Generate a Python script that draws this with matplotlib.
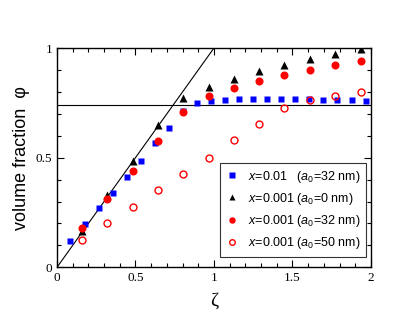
import matplotlib
matplotlib.use('Agg')
import matplotlib.pyplot as plt
from matplotlib.ticker import MultipleLocator

# x=0.01, a0=32 nm
zeta_blue = [0.085, 0.176, 0.265, 0.355, 0.444, 0.533, 0.622, 0.713, 0.802, 0.892,
             0.981, 1.070, 1.159, 1.248, 1.338, 1.427, 1.518, 1.607, 1.696, 1.785,
             1.877, 1.966]
phi_blue = [0.120, 0.196, 0.269, 0.340, 0.413, 0.485, 0.565, 0.636, 0.715, 0.748,
            0.757, 0.762, 0.766, 0.768, 0.769, 0.769, 0.768, 0.767, 0.765, 0.764,
            0.762, 0.759]

# x=0.001 series share the same zeta values
zeta_001 = [0.159, 0.320, 0.482, 0.643, 0.803, 0.966, 1.125, 1.287, 1.448, 1.611,
            1.773, 1.934]
phi_a0 = [0.165, 0.329, 0.485, 0.648, 0.772, 0.822, 0.860, 0.894, 0.923, 0.948,
          0.974, 0.994]
phi_a32 = [0.180, 0.311, 0.440, 0.575, 0.706, 0.779, 0.817, 0.848, 0.876, 0.900,
           0.922, 0.941]
phi_a50 = [0.124, 0.203, 0.275, 0.352, 0.425, 0.500, 0.580, 0.655, 0.727, 0.763,
           0.781, 0.798]

phi_max = 0.74

xticks = [0, 0.5, 1, 1.5, 2]
xticklabels = ['0', '0.5', '1', '1.5', '2']
yticks = [0, 0.5, 1]
yticklabels = ['0', '0.5', '1']

plt.rcParams['mathtext.fontset'] = 'custom'
plt.rcParams['mathtext.rm'] = 'Liberation Sans'
plt.rcParams['mathtext.it'] = 'Liberation Sans:italic'

fig = plt.figure(figsize=(4.07, 3.15), dpi=100)
ax = fig.add_axes([0.140, 0.1514, 0.7715, 0.6962])

ax.plot([0, 2], [0, 2], color='black', lw=0.8, zorder=1)
ax.axhline(phi_max, color='black', lw=0.8, zorder=1)

ax.plot(zeta_blue, phi_blue, 's', color='#0000ff', ms=4.8, mec='none', zorder=3,
        label=r'$x$=0.01   ($a_{\mathit{0}}$=32 nm)')
ax.plot(zeta_001, phi_a0, '^', color='black', ms=5.5, mec='none', zorder=3,
        label=r'$x$=0.001 ($a_{\mathit{0}}$=0 nm)')
ax.plot(zeta_001, phi_a32, 'o', color='#ff0000', ms=5.8, mec='none', zorder=4,
        label=r'$x$=0.001 ($a_{\mathit{0}}$=32 nm)')
ax.plot(zeta_001, phi_a50, 'o', mfc='none', mec='#ff0000', mew=1.0, ms=5.0, zorder=4,
        label=r'$x$=0.001 ($a_{\mathit{0}}$=50 nm)')

ax.set_xlim(0, 2)
ax.set_ylim(0, 1)
ax.set_xticks(xticks)
ax.set_xticklabels(xticklabels)
ax.set_yticks(yticks)
ax.set_yticklabels(yticklabels)
ax.xaxis.set_minor_locator(MultipleLocator(0.1))
ax.yaxis.set_minor_locator(MultipleLocator(0.1))
ax.tick_params(which='both', direction='in', top=True, right=True, width=0.8)
ax.tick_params(which='major', length=5, labelsize=9.5)
ax.tick_params(which='minor', length=3)
for lab in ax.get_xticklabels() + ax.get_yticklabels():
    lab.set_family('Liberation Serif')
for s in ax.spines.values():
    s.set_linewidth(1.0)

ax.set_ylabel('volume fraction  \u03c6', fontsize=13, family='Liberation Sans', labelpad=4)
ax.set_xlabel('\u03b6', fontsize=14, family='Liberation Serif', labelpad=6)

leg = ax.legend(loc='upper left', bbox_to_anchor=(0.519, 0.476), borderaxespad=0,
                frameon=True, fancybox=False, edgecolor='black',
                prop={'family': 'Liberation Sans', 'size': 9},
                handlelength=1.0, handletextpad=0.8, labelspacing=0.5,
                borderpad=0.45, markerscale=0.8)
leg.get_frame().set_linewidth(0.8)

fig.savefig('out.png', dpi=100)
